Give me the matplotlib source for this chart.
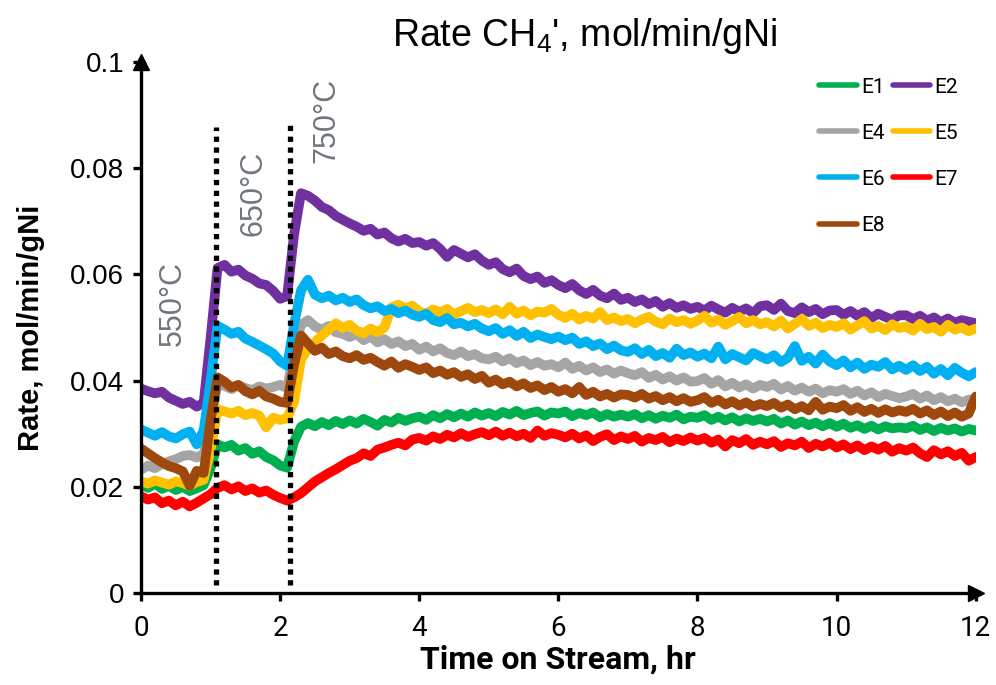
import numpy as np
import matplotlib.pyplot as plt

plt.rcParams['font.family'] = ['Liberation Sans', 'DejaVu Sans']
plt.rcParams['mathtext.fontset'] = 'custom'
plt.rcParams['mathtext.rm'] = 'Liberation Sans'

# time on stream, hr (sampled every 0.1 hr)
hours = np.round(np.arange(121) * 0.1, 1)

# rates in 1e-3 mol/min/gNi
E1 = [20.4, 19.8, 20.6, 19.6, 20.2, 19.4, 20.0, 19.2, 19.7, 20.3,
      23.5, 28.0, 27.4, 27.9, 26.8, 27.3, 26.2, 26.7, 25.6, 25.0,
      24.0, 23.6, 28.5, 31.3, 32.0, 31.4, 32.2, 31.6, 32.4, 31.8,
      32.5, 31.9, 32.8, 32.2, 31.5, 32.6, 32.1, 33.0, 32.4, 32.9,
      33.2, 32.6, 33.5, 32.9, 33.7, 33.1, 33.8, 33.2, 34.0, 33.4,
      33.9, 33.3, 34.1, 33.6, 34.3, 33.5, 33.9, 34.2, 33.4, 34.0,
      33.8, 34.2, 33.3, 33.9, 33.5, 34.0, 33.1, 33.7, 33.2, 33.6,
      33.2, 33.7, 32.9, 33.5, 32.8, 33.4, 33.0, 33.6, 32.7, 33.2,
      33.0, 33.5, 32.6, 33.2, 32.5, 33.1, 32.3, 32.9, 32.4, 32.8,
      32.3, 32.8, 31.9, 32.5, 31.7, 32.3, 31.6, 32.1, 31.4, 32.0,
      31.3, 31.9, 31.1, 31.6, 30.9, 31.5, 30.8, 31.4, 31.0, 31.2,
      31.0, 31.5, 30.7, 31.2, 30.5, 31.1, 30.6, 31.0, 30.4, 30.9,
      30.6]
E2 = [38.5, 38.0, 37.6, 37.9, 36.8, 36.2, 35.6, 36.0, 35.1, 35.8,
      48.0, 61.2, 61.8, 60.5, 60.9, 59.8, 59.2, 58.3, 58.0, 56.9,
      55.4, 55.9, 67.5, 75.3, 74.8, 73.9, 72.7, 72.1, 71.0, 70.3,
      69.6, 69.0, 68.2, 68.6, 67.5, 67.9, 66.8, 66.2, 66.7, 65.9,
      66.1, 65.4, 65.9, 64.8, 63.3, 64.6, 63.9, 63.2, 63.8, 62.6,
      61.8, 62.3, 61.0, 60.4, 61.1, 59.7, 59.1, 59.6, 58.4, 58.9,
      58.0, 57.4, 58.2, 57.0, 56.3, 57.1, 56.0, 55.5, 56.4, 55.2,
      55.6, 54.8, 55.3, 54.4, 55.0, 53.9, 54.6, 53.7, 54.2, 53.5,
      53.9, 53.2, 54.1, 53.4, 52.8, 53.7, 53.0, 53.6, 52.7, 54.0,
      54.2, 53.3, 54.5, 53.1, 52.7, 53.8, 52.9, 53.5, 52.5, 53.2,
      53.3, 52.4, 53.1, 52.2, 52.9, 51.8, 52.6, 52.0, 51.5, 52.3,
      52.3, 51.6, 52.2, 51.3, 51.9, 51.0, 51.7, 50.9, 51.4, 51.1,
      50.8]
E4 = [23.2, 24.0, 23.5, 24.3, 24.8, 25.2, 25.8, 26.0, 25.5, 26.2,
      32.0, 39.5, 39.0, 38.4, 39.1, 38.6, 38.2, 38.9, 38.5, 38.8,
      39.2, 38.6, 45.5, 50.5, 51.4, 50.2, 49.6, 50.3, 49.1, 48.8,
      48.2, 48.8, 47.6, 48.3, 47.2, 47.8, 46.9, 47.4, 46.5, 46.9,
      45.8, 46.4, 45.5, 46.1, 45.2, 44.8, 45.5, 44.6, 45.0, 44.2,
      44.0, 44.5, 43.6, 44.2, 43.3, 43.8, 42.9, 43.5, 42.8, 43.1,
      42.5, 43.4, 42.2, 42.8, 41.9, 42.5, 41.6, 42.1, 41.3, 41.9,
      41.4, 41.0, 41.6, 40.5, 41.1, 40.2, 40.8, 40.0, 40.6, 39.8,
      39.9, 40.5, 39.4, 40.1, 38.9, 39.6, 38.7, 39.3, 38.5, 39.2,
      38.8, 39.4, 38.3, 39.0, 38.1, 38.7, 37.9, 38.5, 37.6, 38.2,
      37.9, 38.4, 37.5, 38.1, 37.2, 37.8, 36.9, 37.5, 37.1, 36.7,
      37.0, 37.5, 36.6, 37.2, 36.3, 36.9, 36.1, 36.6, 35.9, 36.4,
      36.2]
E5 = [21.0, 20.6, 21.2, 20.8, 20.4, 21.0, 20.7, 20.2, 20.9, 21.3,
      27.0, 34.6, 34.2, 33.8, 34.3, 33.5, 33.9, 33.4, 31.2, 33.0,
      32.6, 32.9, 36.0, 44.0, 46.0, 47.2, 48.5, 49.6, 50.8, 49.9,
      50.5, 49.4, 48.9, 49.8, 49.1, 50.0, 53.8, 54.3, 53.6, 54.1,
      53.0, 52.6, 53.4, 52.8, 53.5, 52.4, 53.1, 53.7, 52.9, 53.3,
      52.7, 53.4, 52.5, 53.9, 52.6, 53.2, 52.3, 53.0, 52.8, 53.5,
      52.4, 51.8, 52.6, 51.5, 52.2, 51.7, 52.9, 51.4, 51.9, 51.2,
      51.6, 50.8, 51.5, 52.0, 51.1, 50.6, 51.7, 51.0, 51.4, 50.7,
      51.3, 52.2, 50.9, 51.5, 50.5, 51.2, 52.0, 50.8, 51.4, 50.6,
      51.0, 50.2, 51.3, 49.8, 50.7, 51.6, 50.3, 50.9, 49.9, 50.5,
      50.1, 50.8, 49.6, 50.4, 51.2, 49.8, 50.3, 49.5, 50.6, 49.9,
      50.2, 49.4, 50.7, 49.7, 50.1, 49.2, 50.5, 49.6, 50.0, 49.3,
      49.8]
E6 = [30.8, 30.2, 29.6, 30.3, 29.5, 29.1, 29.9, 30.4, 28.0, 30.6,
      40.0, 50.3, 49.6, 48.8, 49.2, 47.9, 47.3, 46.6, 45.9, 45.1,
      43.6, 42.8, 50.5, 57.0, 59.0, 56.2, 55.5, 56.0, 55.1, 55.6,
      54.8, 55.3, 54.2, 53.6, 54.0, 53.1, 53.5, 52.7, 53.2, 52.4,
      52.0, 52.6, 51.4, 51.0, 51.8, 50.6, 50.9, 50.2, 50.7, 49.8,
      49.3, 49.9, 48.8, 49.5, 48.4, 49.2, 48.0, 48.7, 48.2, 47.8,
      48.3, 47.6, 48.1, 46.9, 47.4, 46.5, 47.0, 45.9, 46.6, 45.7,
      45.4, 46.1, 45.0, 45.8, 44.6, 45.2, 44.3, 46.0, 44.8, 45.3,
      44.5, 45.1, 44.2, 46.4, 44.0, 45.0, 44.4, 43.8, 45.2, 44.6,
      44.0, 44.8, 43.5, 44.3, 46.5, 43.7, 44.5, 43.2, 44.9, 43.6,
      42.9, 43.8, 42.5, 43.4, 42.2, 43.0, 42.6, 43.5, 42.1, 42.8,
      42.0, 42.9, 41.8, 42.6, 41.3, 42.2, 41.0, 42.4, 41.5, 40.8,
      41.6]
E7 = [18.2, 17.6, 18.0, 16.9, 17.4, 16.5, 17.2, 16.3, 17.0, 17.8,
      18.6, 19.8, 20.3, 19.5, 20.1, 19.2, 19.7, 18.9, 19.3, 18.5,
      17.9, 17.4, 18.0, 18.8, 19.9, 21.0, 21.8, 22.6, 23.3, 24.1,
      24.9, 25.4, 26.3, 25.8, 27.0, 27.4, 27.9, 28.3, 27.8, 28.9,
      29.2, 28.7, 29.5, 29.0, 29.8, 29.3, 30.1, 29.4, 29.9, 30.3,
      29.7, 30.4, 29.6, 30.2, 29.5, 30.0, 29.2, 30.6, 29.6, 30.1,
      29.8, 29.3, 30.0, 29.1, 29.7, 28.6, 29.4, 29.9, 28.8, 29.5,
      29.0, 29.6, 28.5, 29.2, 28.8, 29.4, 28.4, 29.1, 28.6, 29.3,
      28.7, 29.2, 28.3, 28.9, 27.6, 28.8, 28.2, 29.0, 27.9, 28.5,
      28.0, 28.6, 27.5, 28.2, 27.8, 28.5, 27.3, 28.1, 27.6, 28.3,
      27.4, 28.0, 27.1, 27.8, 26.9, 27.6, 27.0, 27.7, 26.6, 27.3,
      26.8, 27.4, 26.3, 25.6, 26.9, 26.1, 26.7, 25.8, 26.4, 24.9,
      25.6]
E8 = [27.2, 26.3, 25.4, 24.6, 23.9, 23.5, 22.9, 20.2, 23.0, 22.6,
      32.5, 40.6, 39.8, 38.7, 39.2, 38.0, 37.4, 38.1, 37.0, 36.6,
      36.0, 35.8, 43.0, 48.5, 47.0, 45.6, 46.2, 45.0, 45.5, 44.6,
      44.2, 44.8, 43.9, 44.3, 43.5, 42.8, 43.6, 42.4, 43.1, 42.6,
      42.0, 42.5, 41.4, 41.9, 41.1, 41.6, 40.7, 41.2, 40.3, 40.9,
      39.6, 40.2, 39.3, 39.8, 38.9, 39.5, 38.6, 39.1, 38.2, 38.8,
      37.9, 38.4, 37.6, 38.8, 37.3, 37.9, 37.0, 37.5, 36.8, 37.4,
      37.3, 36.8, 37.5, 36.6, 37.1, 36.3, 36.9, 36.1, 36.7, 36.0,
      36.3, 36.9, 35.8, 36.4, 35.5, 36.1, 35.3, 35.9, 35.1, 35.6,
      35.2, 35.8, 34.9, 35.5, 34.6, 35.2, 34.4, 36.0, 34.5, 35.1,
      34.8, 35.4, 34.3, 35.0, 34.1, 34.7, 33.9, 34.6, 34.0, 34.4,
      34.1, 34.7, 33.8, 34.4, 33.5, 34.2, 33.3, 34.0, 33.2, 33.8,
      37.0]

names = ['E1', 'E2', 'E4', 'E5', 'E6', 'E7', 'E8']
series = [E1, E2, E4, E5, E6, E7, E8]
colors = ['#00b050', '#7030a0', '#a5a5a5', '#ffc000', '#00b0f0', '#ff0000', '#9e480e']

# temperature steps
step_hours = [1.08, 2.14]
step_tops = [0.0878, 0.0887]
temp_labels = ['550°C', '650°C', '750°C']
temp_x = [0.46, 1.61, 2.67]
temp_y = [0.0545, 0.0753, 0.0889]

fig = plt.figure(figsize=(9.96, 6.85), dpi=100)
ax = fig.add_axes([0.1416, 0.1343, 0.838, 0.7752])

lines = {}
for name, vals, c in zip(names, series, colors):
    ln, = ax.plot(hours, np.array(vals) / 1000, color=c, lw=7,
                  solid_capstyle='round', solid_joinstyle='round', label=name)
    lines[name] = ln

for x, top in zip(step_hours, step_tops):
    ax.plot([x, x], [0.0015, top], color='black', lw=3.8,
            linestyle=(0, (1, 1.05)), dash_capstyle='butt', zorder=5)

for lab, x, y in zip(temp_labels, temp_x, temp_y):
    ax.text(x, y, lab, rotation=90, ha='center', va='center',
            fontsize=22, color='#6f767d', zorder=6)

ax.set_xlim(0, 12)
ax.set_ylim(0, 0.1)
ax.set_xticks([0, 2, 4, 6, 8, 10, 12])
ax.set_yticks([0, 0.02, 0.04, 0.06, 0.08, 0.1])
ax.set_yticklabels(['0', '0.02', '0.04', '0.06', '0.08', '0.1'])
for s in ['top', 'right']:
    ax.spines[s].set_visible(False)
for s in ['left', 'bottom']:
    ax.spines[s].set_linewidth(2.4)
ax.tick_params(axis='both', width=2.4, length=6, color='black')
ax.tick_params(axis='y', labelsize=20, pad=6)
ax.tick_params(axis='x', labelsize=20, pad=10)
for lab in ax.get_xticklabels():
    lab.set_family('Roboto')

ax.plot(1, 0, '>k', ms=11, transform=ax.transAxes, clip_on=False)
ax.plot(0, 1, '^k', ms=11, transform=ax.transAxes, clip_on=False)

ax.set_xlabel('Time on Stream, hr', fontsize=23, fontweight='bold',
              family='Roboto', labelpad=2)
ax.set_ylabel('Rate, mol/min/gNi', fontsize=21, fontweight='bold', labelpad=18)

fig.text(0.587, 0.948, "Rate CH$_4$', mol/min/gNi", fontsize=27,
         ha='center', va='center')

order = ['E1', 'E4', 'E6', 'E8', 'E2', 'E5', 'E7']
leg = fig.legend([lines[n] for n in order], order, loc='upper left',
                 bbox_to_anchor=(0.812, 0.902), ncol=2, frameon=False,
                 handlelength=1.8, handletextpad=0.2,
                 labelspacing=1.3, columnspacing=0.4, borderpad=0,
                 prop={'family': 'Roboto', 'size': 15})
for h in leg.get_lines():
    h.set_linewidth(4)

fig.savefig('out.png', dpi=100)
